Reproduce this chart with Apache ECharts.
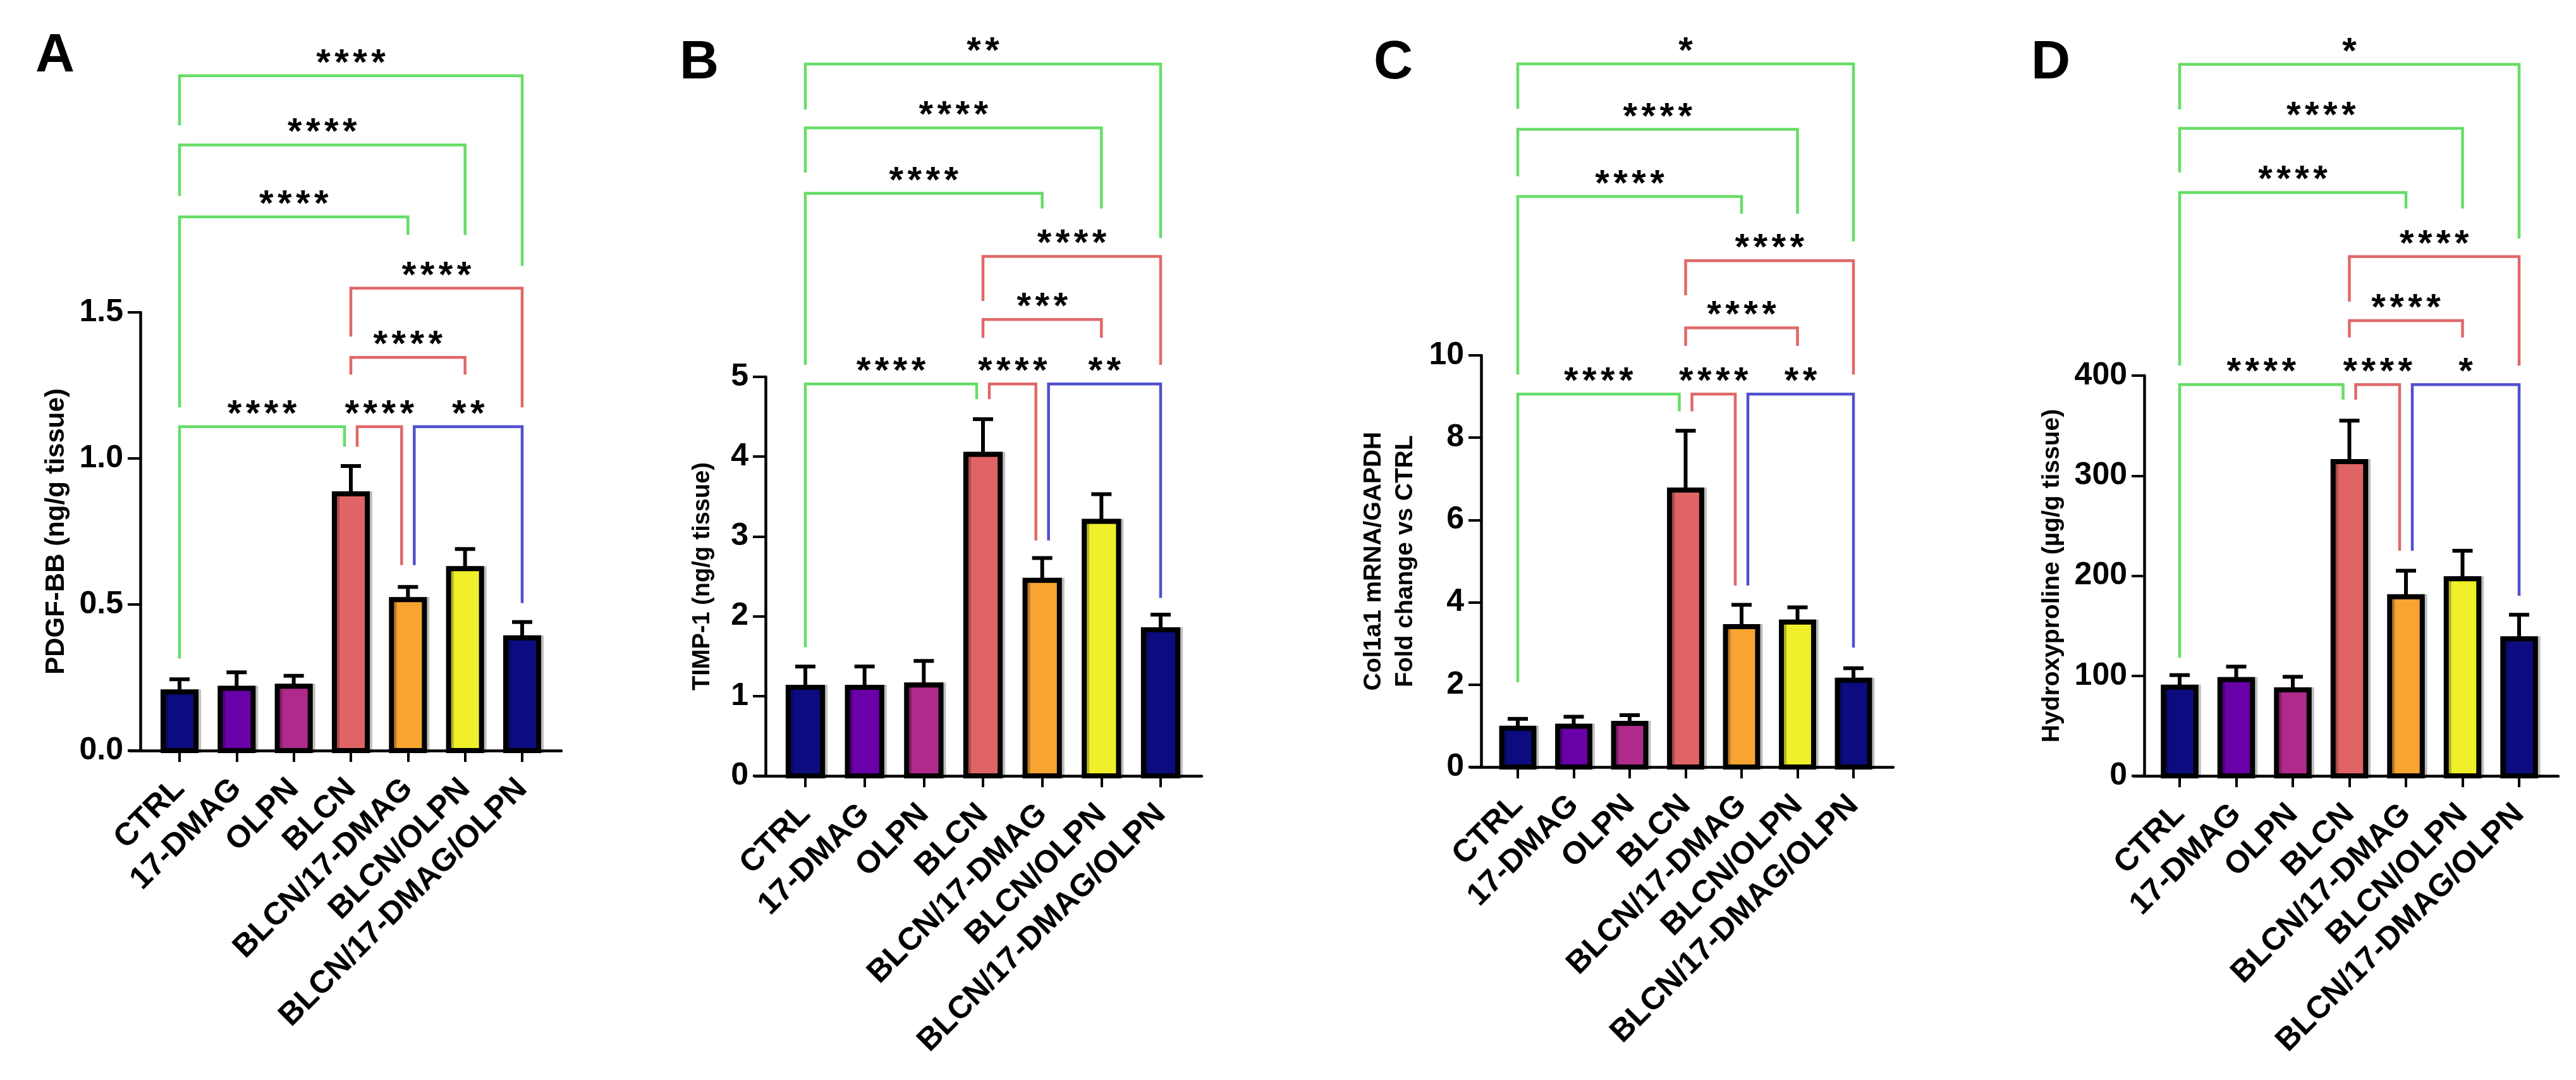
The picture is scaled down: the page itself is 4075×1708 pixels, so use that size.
<!DOCTYPE html>
<html>
<head>
<meta charset="utf-8">
<title>PDGF-BB, TIMP-1, Col1a1, Hydroxyproline</title>
<style>
  html, body { margin: 0; padding: 0; background: #fff; }
  #chart { width: 4075px; height: 1708px; }
</style>
</head>
<body>
<div id="chart"></div>
<script src="https://cdn.jsdelivr.net/npm/echarts@6/dist/echarts.min.js"></script>
<script>
// groups, same for all four panels
var categories = ['CTRL', '17-DMAG', 'OLPN', 'BLCN', 'BLCN/17-DMAG', 'BLCN/OLPN', 'BLCN/17-DMAG/OLPN'];
var barColors = ['#0c0c80', '#6a00a8', '#b02a8c', '#e06464', '#f8a432', '#f0f02a', '#0c0c80'];

// comparisons drawn as brackets (group index from -> to), same order in every panel
var pairs = [[0, 3], [3, 4], [4, 6], [3, 5], [3, 6], [0, 4], [0, 5], [0, 6]];
var pairColors = ['#66dd66', '#e06868', '#5050d0', '#e06868', '#e06868', '#66dd66', '#66dd66', '#66dd66'];

// A - PDGF-BB (ng/g tissue)
var pdgfMean = [0.201, 0.213, 0.220, 0.879, 0.517, 0.623, 0.386];
var pdgfSem = [0.043, 0.055, 0.036, 0.095, 0.043, 0.067, 0.054];
var pdgfLevel = [1.109, 1.109, 1.109, 1.346, 1.583, 1.827, 2.073, 2.310];
var pdgfLegL = [0.315, 1.040, 0.635, 1.287, 1.417, 1.175, 1.898, 2.140];
var pdgfLegR = [1.040, 0.635, 0.505, 1.287, 1.175, 1.765, 1.765, 1.659];
var pdgfStars = ['****', '****', '**', '****', '****', '****', '****', '****'];

// B - TIMP-1 (ng/g tissue)
var timpMean = [1.11, 1.11, 1.14, 4.03, 2.45, 3.19, 1.83];
var timpSem = [0.26, 0.26, 0.30, 0.44, 0.28, 0.34, 0.19];
var timpLevel = [4.91, 4.91, 4.91, 5.72, 6.51, 7.30, 8.12, 8.92];
var timpLegL = [1.61, 4.72, 2.95, 5.49, 5.95, 5.15, 7.56, 8.35];
var timpLegR = [4.72, 2.95, 2.23, 5.49, 5.15, 7.11, 7.11, 6.74];
var timpStars = ['****', '****', '**', '***', '****', '****', '****', '**'];

// C - Col1a1 mRNA/GAPDH, fold change vs CTRL
var colMean = [0.94, 0.99, 1.06, 6.73, 3.41, 3.52, 2.11];
var colSem = [0.23, 0.23, 0.20, 1.44, 0.53, 0.36, 0.29];
var colLevel = [9.06, 9.06, 9.06, 10.67, 12.30, 13.86, 15.49, 17.08];
var colLegL = [2.06, 8.64, 4.41, 10.23, 11.46, 9.53, 14.35, 15.99];
var colLegR = [8.64, 4.41, 2.90, 10.23, 9.53, 13.44, 13.44, 12.77];
var colStars = ['****', '****', '**', '****', '****', '****', '****', '*'];

// D - Hydroxyproline (µg/g tissue)
var hypMean = [88.7, 96.2, 86.0, 314, 179, 197, 137];
var hypSem = [12, 13, 13, 41, 26, 28, 24];
var hypLevel = [391, 391, 391, 455, 519, 583, 647, 711];
var hypLegL = [118, 376, 225, 438, 474, 410, 603, 666];
var hypLegR = [376, 225, 180, 438, 410, 567, 567, 537];
var hypStars = ['****', '****', '*', '****', '****', '****', '****', '*'];

var font = "'Liberation Sans', Arial, sans-serif";

var panels = [
    { letter: 'A', letterX: 56, letterY: 46, axisX: 222, zeroY: 1187, topY: 494, firstBar: 284, lastBar: 826, xEnd: 888,
      yMax: 1.5, yStep: 0.5, digits: 1, name: 'PDGF-BB (ng/g tissue)', nameSize: 42, nameLine: 42, nameGap: 112,
      mean: pdgfMean, sem: pdgfSem, level: pdgfLevel, legL: pdgfLegL, legR: pdgfLegR, stars: pdgfStars },
    { letter: 'B', letterX: 1075, letterY: 57, axisX: 1211, zeroY: 1227, topY: 596, firstBar: 1274, lastBar: 1836, xEnd: 1901,
      yMax: 5, yStep: 1, digits: 0, name: 'TIMP-1 (ng/g tissue)', nameSize: 38, nameLine: 38, nameGap: 80,
      mean: timpMean, sem: timpSem, level: timpLevel, legL: timpLegL, legR: timpLegR, stars: timpStars },
    { letter: 'C', letterX: 2173, letterY: 57, axisX: 2343, zeroY: 1213, topY: 562, firstBar: 2401, lastBar: 2932, xEnd: 2995,
      yMax: 10, yStep: 2, digits: 0, name: 'Col1a1 mRNA/GAPDH\nFold change vs CTRL', nameSize: 39, nameLine: 50, nameGap: 95,
      mean: colMean, sem: colSem, level: colLevel, legL: colLegL, legR: colLegR, stars: colStars },
    { letter: 'D', letterX: 3213, letterY: 57, axisX: 3392, zeroY: 1227, topY: 594, firstBar: 3448, lastBar: 3985, xEnd: 4047,
      yMax: 400, yStep: 100, digits: 0, name: 'Hydroxyproline (\u00b5g/g tissue)', nameSize: 39, nameLine: 39, nameGap: 126,
      mean: hypMean, sem: hypSem, level: hypLevel, legL: hypLegL, legR: hypLegR, stars: hypStars }
];

var axisOut = 17;       // x axis runs a little past the y axis on the left
var legGap = 10;        // shift of legs that share a bar on the same level
var starStep = 29;

function barRenderer(p) {
    return function (params, api) {
        var x = api.value(0), v = api.value(1), s = api.value(2);
        var base = api.coord([x, 0]);
        var top = api.coord([x, v]);
        var err = api.coord([x, v + s]);
        var w = api.size([1, 0])[0] * 0.665 - 8;
        return {
            type: 'group',
            children: [
                { type: 'line', shape: { x1: top[0], y1: top[1], x2: err[0], y2: err[1] },
                  style: { stroke: '#000', lineWidth: 6 } },
                { type: 'line', shape: { x1: err[0] - 16, y1: err[1], x2: err[0] + 16, y2: err[1] },
                  style: { stroke: '#000', lineWidth: 6 } },
                { type: 'rect', shape: { x: top[0] - w / 2, y: top[1], width: w, height: base[1] - top[1] },
                  style: { fill: barColors[params.dataIndex], stroke: '#000', lineWidth: 8,
                           shadowColor: 'rgba(0,0,0,0.25)', shadowOffsetX: 4, shadowOffsetY: 0, shadowBlur: 0 } }
            ]
        };
    };
}

function bracketRenderer(p) {
    return function (params, api) {
        var i = params.dataIndex;
        var from = pairs[i][0], to = pairs[i][1], lv = p.level[i];
        var shiftL = 0, shiftR = 0;
        for (var j = 0; j < pairs.length; j++) {
            if (j === i || p.level[j] !== lv) continue;
            if (pairs[j][1] === from) shiftL = legGap;
            if (pairs[j][0] === to) shiftR = -legGap;
        }
        var a = api.coord([from, lv]), b = api.coord([to, lv]);
        var la = api.coord([from, p.legL[i]]), lb = api.coord([to, p.legR[i]]);
        var xl = a[0] + shiftL, xr = b[0] + shiftR;
        var children = [{
            type: 'polyline',
            shape: { points: [[xl, la[1]], [xl, a[1]], [xr, a[1]], [xr, lb[1]]] },
            style: { stroke: pairColors[i], lineWidth: 4.5, fill: 'none', lineJoin: 'miter', lineCap: 'butt' }
        }];
        var txt = p.stars[i], cx = (xl + xr) / 2;
        for (var k = 0; k < txt.length; k++) {
            children.push({
                type: 'text',
                style: { text: '*', x: cx + (k - (txt.length - 1) / 2) * starStep, y: a[1] - 18,
                         align: 'center', verticalAlign: 'middle', textAlign: 'center', textVerticalAlign: 'middle',
                         fill: '#000', font: 'bold 58px ' + font }
            });
        }
        return { type: 'group', children: children };
    };
}

var grid = [], xAxis = [], yAxis = [], series = [], graphic = [];
var ticks = categories.map(function (c, i) { return i; });

panels.forEach(function (p, k) {
    var xStart = p.axisX - axisOut;
    var band = (p.lastBar - p.firstBar) / 6;
    var xMin = -(p.firstBar - xStart) / band;
    var xMax = 6 + (p.xEnd - p.lastBar) / band;
    var plotH = p.zeroY - p.topY;
    var overMax = Math.max.apply(null, p.level) * 1.06;
    var overTop = p.zeroY - plotH * overMax / p.yMax;

    grid.push({ left: xStart, width: p.xEnd - xStart, top: p.topY, height: plotH });
    grid.push({ left: xStart, width: p.xEnd - xStart, top: overTop, height: p.zeroY - overTop });

    xAxis.push({
        type: 'value', gridIndex: 2 * k, min: xMin, max: xMax,
        splitLine: { show: false },
        axisLine: { show: true, onZero: false, lineStyle: { color: '#000', width: 4.5 } },
        axisTick: { show: true, customValues: ticks, length: 18, lineStyle: { color: '#000', width: 4 } },
        axisLabel: {
            customValues: ticks, rotate: 45, margin: 53, color: '#000',
            fontFamily: font, fontWeight: 'bold', fontSize: 50,
            formatter: function (v) { return categories[Math.round(v)]; }
        }
    });
    xAxis.push({ type: 'value', gridIndex: 2 * k + 1, min: xMin, max: xMax, show: false });

    yAxis.push({
        type: 'value', gridIndex: 2 * k, min: 0, max: p.yMax, interval: p.yStep, offset: -axisOut,
        splitLine: { show: false },
        axisLine: { show: true, onZero: false, lineStyle: { color: '#000', width: 4.5 } },
        axisTick: { show: true, length: 20, lineStyle: { color: '#000', width: 4 } },
        axisLabel: {
            margin: 27, color: '#000', fontFamily: font, fontWeight: 'bold', fontSize: 50,
            formatter: (function (d) { return function (v) { return v.toFixed(d); }; })(p.digits)
        },
        name: p.name, nameLocation: 'middle', nameRotate: 90, nameGap: p.nameGap,
        nameTextStyle: { color: '#000', fontFamily: font, fontWeight: 'bold', fontSize: p.nameSize, lineHeight: p.nameLine }
    });
    yAxis.push({ type: 'value', gridIndex: 2 * k + 1, min: 0, max: overMax, show: false });

    series.push({
        type: 'custom', name: p.letter + ' bars', xAxisIndex: 2 * k, yAxisIndex: 2 * k,
        renderItem: barRenderer(p), encode: { x: 0, y: 1 },
        data: p.mean.map(function (v, i) { return [i, v, p.sem[i]]; })
    });
    series.push({
        type: 'custom', name: p.letter + ' brackets', xAxisIndex: 2 * k + 1, yAxisIndex: 2 * k + 1,
        renderItem: bracketRenderer(p), encode: { x: 0, y: 2 },
        data: pairs.map(function (pr, i) { return [pr[0], pr[1], p.level[i]]; })
    });

    graphic.push({
        type: 'text', left: p.letterX, top: p.letterY,
        style: { text: p.letter, fill: '#000', font: 'bold 86px ' + font }
    });
});

var chart = echarts.init(document.getElementById('chart'), null, { renderer: 'canvas' });
chart.setOption({
    animation: false,
    backgroundColor: '#fff',
    grid: grid,
    xAxis: xAxis,
    yAxis: yAxis,
    series: series,
    graphic: graphic
});
</script>
</body>
</html>
